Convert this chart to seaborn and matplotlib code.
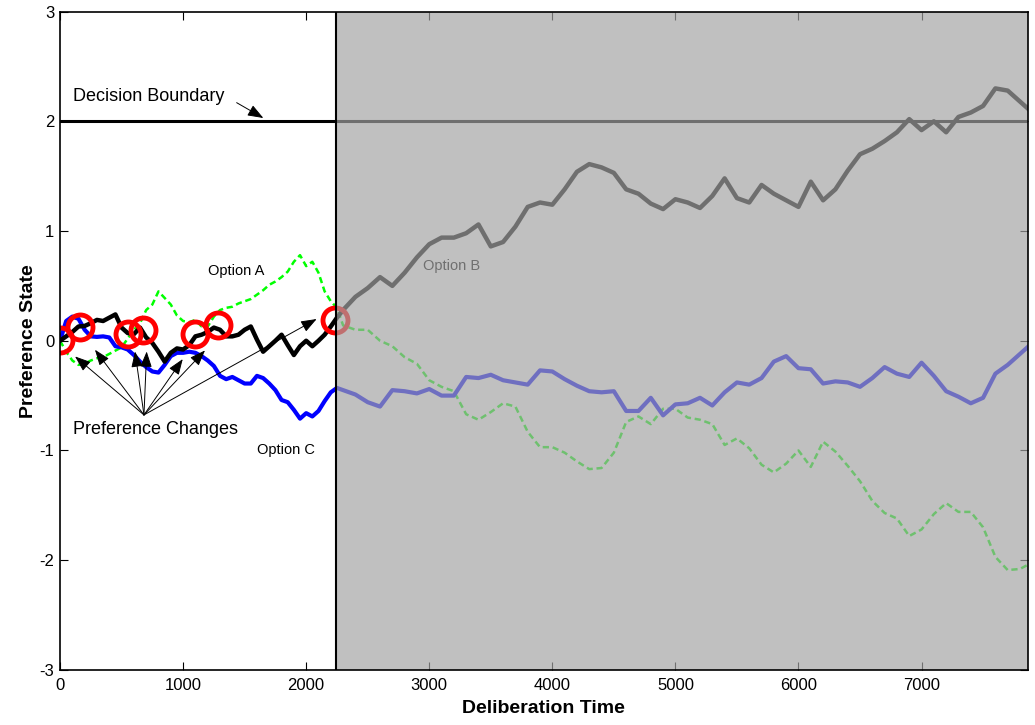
import numpy as np
import pandas as pd
import seaborn as sns
import matplotlib.pyplot as plt

# time grid: fine steps before the decision, coarser after
time = np.concatenate([np.arange(0, 2251, 50), np.arange(2300, 7901, 100)])

option_b = [
    0.0, 0.04, 0.08, 0.13, 0.135, 0.16, 0.19, 0.18, 0.21, 0.24,
    0.12, 0.07, 0.06, 0.12, 0.03, -0.02, -0.10, -0.19, -0.11, -0.07,
    -0.08, -0.04, 0.04, 0.055, 0.08, 0.12, 0.10, 0.04, 0.04, 0.055,
    0.10, 0.13, 0.01, -0.10, -0.05, 0.0, 0.055, -0.04, -0.13, -0.05,
    0.0, -0.05, 0.0, 0.055, 0.13, 0.21,
    0.28, 0.40, 0.48, 0.58, 0.50, 0.62, 0.76, 0.88, 0.94, 0.94,
    0.98, 1.06, 0.86, 0.90, 1.04, 1.22, 1.26, 1.24, 1.38, 1.54,
    1.61, 1.58, 1.53, 1.38, 1.34, 1.25, 1.20, 1.29, 1.26, 1.21,
    1.32, 1.48, 1.30, 1.26, 1.42, 1.34, 1.28, 1.22, 1.45, 1.28,
    1.38, 1.55, 1.70, 1.75, 1.82, 1.90, 2.02, 1.92, 2.00, 1.90,
    2.04, 2.08, 2.14, 2.30, 2.28, 2.18, 2.08,
]

option_c = [
    0.0, 0.18, 0.22, 0.20, 0.10, 0.04, 0.035, 0.04, 0.03, -0.05,
    -0.06, -0.08, -0.13, -0.19, -0.24, -0.28, -0.29, -0.22, -0.14, -0.11,
    -0.11, -0.10, -0.11, -0.14, -0.18, -0.23, -0.32, -0.35, -0.33, -0.36,
    -0.39, -0.39, -0.32, -0.34, -0.39, -0.45, -0.54, -0.56, -0.63, -0.71,
    -0.66, -0.69, -0.64, -0.55, -0.47, -0.43,
    -0.45, -0.49, -0.56, -0.60, -0.45, -0.46, -0.48, -0.44, -0.50, -0.50,
    -0.33, -0.34, -0.31, -0.36, -0.38, -0.40, -0.27, -0.28, -0.35, -0.41,
    -0.46, -0.47, -0.46, -0.64, -0.64, -0.52, -0.68, -0.58, -0.57, -0.52,
    -0.59, -0.47, -0.38, -0.40, -0.34, -0.19, -0.14, -0.25, -0.26, -0.39,
    -0.37, -0.38, -0.42, -0.34, -0.24, -0.30, -0.33, -0.20, -0.32, -0.46,
    -0.51, -0.57, -0.52, -0.30, -0.22, -0.12, -0.02,
]

option_a = [
    0.0, -0.10, -0.18, -0.22, -0.21, -0.18, -0.16, -0.15, -0.12, -0.09,
    -0.06, 0.02, 0.10, 0.16, 0.28, 0.33, 0.45, 0.39, 0.33, 0.23,
    0.18, 0.17, 0.19, 0.13, 0.13, 0.22, 0.28, 0.30, 0.31, 0.34,
    0.36, 0.38, 0.42, 0.46, 0.51, 0.54, 0.58, 0.63, 0.72, 0.78,
    0.68, 0.72, 0.62, 0.45, 0.36, 0.30,
    0.14, 0.10, 0.10, 0.00, -0.05, -0.15, -0.21, -0.36, -0.42, -0.46,
    -0.67, -0.72, -0.65, -0.57, -0.60, -0.83, -0.97, -0.97, -1.02, -1.10,
    -1.17, -1.16, -1.02, -0.74, -0.69, -0.76, -0.62, -0.62, -0.70, -0.72,
    -0.76, -0.95, -0.89, -0.98, -1.13, -1.20, -1.12, -1.00, -1.15, -0.92,
    -1.01, -1.14, -1.28, -1.46, -1.57, -1.62, -1.78, -1.72, -1.58, -1.48,
    -1.56, -1.56, -1.70, -1.97, -2.09, -2.08, -2.02,
]

# preference changes (circles) and arrow tips
change_t = [0, 162, 555, 672, 1097, 1286, 2234]
change_v = [0.01, 0.125, 0.064, 0.094, 0.064, 0.146, 0.185]
arrow_t = [122, 284, 609, 704, 997, 1178, 2085]
arrow_v = [-0.143, -0.082, -0.098, -0.098, -0.167, -0.088, 0.198]

xtick_labels = ['0', '1000', '2000', '3000', '4000', '5000', '6000', '7000']
ytick_labels = ['-3', '-2', '-1', '0', '1', '2', '3']

decision_time = 2240
boundary = 2

sns.set_style('ticks')
plt.rcParams['font.family'] = ['Liberation Sans', 'DejaVu Sans']
plt.rcParams['text.color'] = 'black'
plt.rcParams['axes.labelcolor'] = 'black'
plt.rcParams['axes.unicode_minus'] = False

fig = plt.figure(figsize=(10.35, 7.25), dpi=100)
ax = fig.add_axes([0.058, 0.076, 0.935, 0.908])

ax.axhline(boundary, color='black', lw=2.2, zorder=1.8)

sns.lineplot(x=time, y=option_a, ax=ax, color='#00ff00', lw=1.8,
             linestyle=(0, (2.5, 1.5)), estimator=None, sort=False, zorder=2)
sns.lineplot(x=time, y=option_c, ax=ax, color='#0000ff', lw=3,
             estimator=None, sort=False, zorder=2)
sns.lineplot(x=time, y=option_b, ax=ax, color='black', lw=3.2,
             estimator=None, sort=False, zorder=2)

ax.plot(change_t, change_v, 'o', mfc='none', mec='red', ms=18, mew=3.5, zorder=2.1)

# gray overlay over the time after the decision
ax.axvspan(decision_time, 7863, color='#a3a3a3', alpha=0.686, lw=0, zorder=2.2)
ax.axvline(decision_time, color='black', lw=1.5, zorder=3)

arrow_style = dict(arrowstyle='-|>,head_length=0.8,head_width=0.3',
                   color='black', lw=0.7, shrinkA=0, shrinkB=0, mutation_scale=12)
for t, v in zip(arrow_t, arrow_v):
    ax.annotate('', xy=(t, v), xytext=(682, -0.676), arrowprops=arrow_style, zorder=3)
ax.annotate('', xy=(1652, 2.03), xytext=(1435, 2.17), arrowprops=arrow_style, zorder=3)

ax.text(103, 2.23, 'Decision Boundary', fontsize=13, va='center', ha='left', zorder=3)
ax.text(103, -0.81, 'Preference Changes', fontsize=13, va='center', ha='left', zorder=3)
ax.text(1203, 0.64, 'Option A', fontsize=10.5, va='center', ha='left', zorder=3)
ax.text(1598, -1.0, 'Option C', fontsize=10.5, va='center', ha='left', zorder=3)
ax.text(2951, 0.685, 'Option B', fontsize=10.5, va='center', ha='left', zorder=2)

ax.set_xlim(0, 7863)
ax.set_ylim(-3, 3)
ax.set_xticks(range(0, 7001, 1000))
ax.set_xticklabels(xtick_labels, fontsize=12,
                   family=['Liberation Sans Narrow', 'DejaVu Sans Condensed',
                           'Liberation Sans'])
ax.set_yticks(range(-3, 4))
ax.set_yticklabels(ytick_labels, fontsize=12)
ax.tick_params(direction='in', top=True, right=True, length=6, width=0.8,
               colors='black')
ax.tick_params(axis='x', pad=6)
ax.tick_params(axis='y', pad=4)
for s in ax.spines.values():
    s.set_color('black')
    s.set_linewidth(1.2)

ax.set_xlabel('Deliberation Time', fontsize=14, fontweight='bold', labelpad=5)
ax.set_ylabel('Preference State', fontsize=14, fontweight='bold', labelpad=2)

fig.savefig('out.png', dpi=100)
